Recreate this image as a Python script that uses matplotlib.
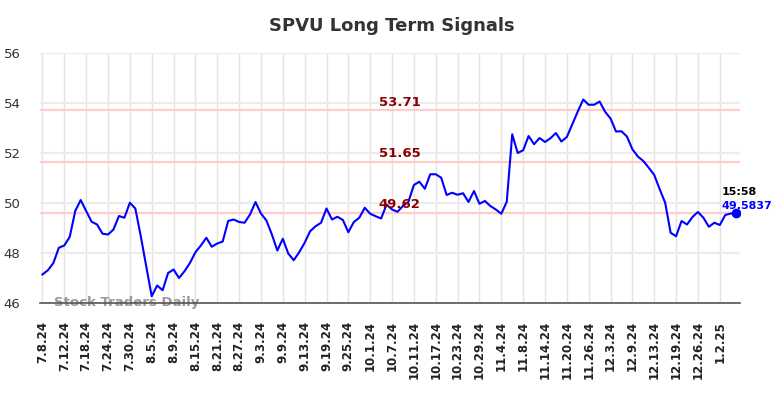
import matplotlib
matplotlib.use("Agg")
import matplotlib.pyplot as plt

# ---- data ----
tick_labels = ["7.8.24", "7.12.24", "7.18.24", "7.24.24", "7.30.24", "8.5.24", "8.9.24",
               "8.15.24", "8.21.24", "8.27.24", "9.3.24", "9.9.24", "9.13.24", "9.19.24",
               "9.25.24", "10.1.24", "10.7.24", "10.11.24", "10.17.24", "10.23.24",
               "10.29.24", "11.4.24", "11.8.24", "11.14.24", "11.20.24", "11.26.24",
               "12.3.24", "12.9.24", "12.13.24", "12.19.24", "12.26.24", "1.2.25"]
tick_step = 4  # one label every 4 trading days

prices = [
    47.14, 47.31, 47.60, 48.21, 48.30, 48.65, 49.68, 50.12, 49.68, 49.25,
    49.14, 48.77, 48.74, 48.94, 49.48, 49.41, 50.01, 49.78, 48.67, 47.47,
    46.27, 46.70, 46.51, 47.20, 47.34, 47.00, 47.27, 47.60, 48.03, 48.30,
    48.61, 48.25, 48.38, 48.46, 49.28, 49.34, 49.24, 49.21, 49.54, 50.04,
    49.58, 49.30, 48.74, 48.10, 48.57, 47.98, 47.71, 48.03, 48.41, 48.87,
    49.07, 49.21, 49.78, 49.34, 49.45, 49.32, 48.83, 49.24, 49.41, 49.81,
    49.57, 49.47, 49.38, 49.94, 49.74, 49.65, 49.88, 50.05, 50.72, 50.85,
    50.57, 51.15, 51.15, 51.01, 50.32, 50.41, 50.33, 50.39, 50.04, 50.48,
    49.97, 50.08, 49.88, 49.74, 49.57, 50.05, 52.75, 52.00, 52.11, 52.68,
    52.35, 52.60, 52.44, 52.59, 52.80, 52.46, 52.64, 53.15, 53.66, 54.14,
    53.93, 53.93, 54.06, 53.65, 53.38, 52.86, 52.87, 52.66, 52.15, 51.86,
    51.68, 51.41, 51.12, 50.55, 50.01, 48.81, 48.67, 49.28, 49.14, 49.44,
    49.64, 49.41, 49.05, 49.21, 49.12, 49.52, 49.58, 49.5837,
]

levels = [53.71, 51.65, 49.62]
level_labels = ["53.71", "51.65", "49.62"]
last_time = "15:58"
last_value_label = "49.5837"
title = "SPVU Long Term Signals"
watermark = "Stock Traders Daily"
y_ticks = [46, 48, 50, 52, 54, 56]

# ---- figure ----
W, H = 784, 398
fig = plt.figure(figsize=(W / 100, H / 100), dpi=100)
ax = fig.add_axes([40 / W, 1 - 303 / H, 700 / W, 250 / H])

x = list(range(len(prices)))

ax.set_ylim(46, 56)
ax.set_xlim(-0.45, len(prices) - 1 + 0.7)

# grid
ax.set_yticks(y_ticks)
tick_pos = [i * tick_step for i in range(len(tick_labels))]
ax.set_xticks(tick_pos)
ax.set_xticklabels(tick_labels, rotation=90, fontsize=8.5, fontweight="bold", color="#222222")
ax.set_yticklabels([str(v) for v in y_ticks], fontsize=9.5, color="#333333")
ax.grid(axis="x", color="#e3e3e3", linewidth=1.0)
ax.grid(axis="y", color="#ececec", linewidth=1.6)
ax.set_axisbelow(True)
ax.tick_params(axis="both", length=0)
ax.tick_params(axis="x", pad=13)
ax.tick_params(axis="y", pad=14)

for s in ["top", "right", "left"]:
    ax.spines[s].set_visible(False)
ax.spines["bottom"].set_color("#555555")
ax.spines["bottom"].set_linewidth(1.2)

# levels
for lv, lb in zip(levels, level_labels):
    ax.axhline(lv, color="#ffcccc", linewidth=1.6, zorder=1)
    ax.text(65.4, lv + 0.06, lb, color="#8b0000", fontsize=9.5, fontweight="bold",
            ha="center", va="bottom", zorder=4)

# price line
ax.plot(x, prices, color="#0000ff", linewidth=1.5, zorder=3)
ax.plot([x[-1]], [prices[-1]], "o", color="#0000ff", markersize=6, zorder=5)

# last point annotation
ax.text(x[-1] - 2.7, prices[-1] + 0.85, last_time, color="#000000", fontsize=8,
        fontweight="bold", ha="left", va="center")
ax.text(x[-1] - 2.7, prices[-1] + 0.3, last_value_label, color="#0000ff", fontsize=8,
        fontweight="bold", ha="left", va="center")

# watermark
ax.text(2.2, 46.02, watermark, color="#999999", fontsize=9.5, fontweight="bold",
        ha="left", va="center", zorder=2)

fig.text(392 / W, 1 - 26 / H, title, ha="center", va="center", fontsize=13,
         fontweight="bold", color="#333333")

fig.savefig("out.png", dpi=100, facecolor="white")
